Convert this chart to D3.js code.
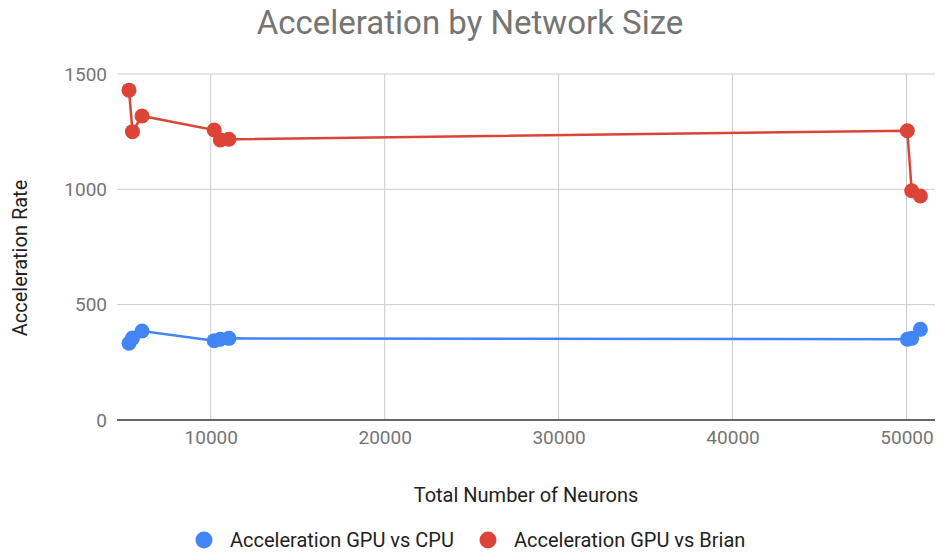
<!DOCTYPE html>
<html>
<head>
<meta charset="utf-8">
<script src="https://cdn.jsdelivr.net/npm/d3@7"></script>
<style>
  body { margin: 0; background: #fff; }
  svg text { font-family: Roboto, "Noto Sans", sans-serif; }
</style>
</head>
<body>
<svg id="chart" width="938" height="553"></svg>
<script>
// network sizes (x) and acceleration rates per series
var neurons = [5300, 5500, 6050, 10200, 10550, 11050, 50050, 50300, 50800];
var gpuVsCpu = [333, 355, 386, 344, 350, 354, 350, 354, 393];
var gpuVsBrian = [1430, 1250, 1318, 1257, 1214, 1217, 1254, 994, 971];

var xTicks = [10000, 20000, 30000, 40000, 50000];
var yTicks = [0, 500, 1000, 1500];

var seriesNames = ["Acceleration GPU vs CPU", "Acceleration GPU vs Brian"];
var seriesColors = ["#4285f4", "#db4437"];

var svg = d3.select("#chart");

var x = d3.scaleLinear()
    .domain([4610, 51640])
    .range([117, 935]);

var y = d3.scaleLinear()
    .domain([0, 1500])
    .range([420, 74]);

// title
svg.append("text")
    .attr("x", 470)
    .attr("y", 34)
    .attr("text-anchor", "middle")
    .attr("font-size", 33)
    .attr("fill", "#757575")
    .text("Acceleration by Network Size");

// horizontal grid
svg.append("g")
    .selectAll("line")
    .data(yTicks.filter(function(d) { return d > 0; }))
    .enter().append("line")
    .attr("x1", 117)
    .attr("x2", 935)
    .attr("y1", function(d) { return y(d); })
    .attr("y2", function(d) { return y(d); })
    .attr("stroke", "#cccccc");

// vertical grid
svg.append("g")
    .selectAll("line")
    .data(xTicks)
    .enter().append("line")
    .attr("x1", function(d) { return x(d); })
    .attr("x2", function(d) { return x(d); })
    .attr("y1", 74)
    .attr("y2", 420)
    .attr("stroke", "#cccccc");

// baseline
svg.append("line")
    .attr("x1", 117)
    .attr("x2", 935)
    .attr("y1", y(0))
    .attr("y2", y(0))
    .attr("stroke", "#333333")
    .attr("stroke-width", 1.5);

// axes labels via d3 axes, with their lines hidden
var yAxis = svg.append("g")
    .attr("transform", "translate(117,0)")
    .call(d3.axisLeft(y).tickValues(yTicks).tickSize(0).tickPadding(10).tickFormat(d3.format("d")));
yAxis.select(".domain").remove();
yAxis.selectAll("text")
    .attr("font-family", "Roboto, sans-serif")
    .attr("font-size", 19)
    .attr("fill", "#757575");

var xAxis = svg.append("g")
    .attr("transform", "translate(0,420)")
    .call(d3.axisBottom(x).tickValues(xTicks).tickSize(0).tickPadding(11).tickFormat(d3.format("d")));
xAxis.select(".domain").remove();
xAxis.selectAll("text")
    .attr("font-family", "Roboto, sans-serif")
    .attr("font-size", 19)
    .attr("fill", "#757575");

// axis titles
svg.append("text")
    .attr("transform", "translate(27,258) rotate(-90)")
    .attr("text-anchor", "middle")
    .attr("font-size", 20)
    .attr("fill", "#222222")
    .text("Acceleration Rate");

svg.append("text")
    .attr("x", 526)
    .attr("y", 502)
    .attr("text-anchor", "middle")
    .attr("font-size", 20)
    .attr("fill", "#222222")
    .text("Total Number of Neurons");

// series
var series = [gpuVsCpu, gpuVsBrian];
var line = d3.line()
    .x(function(d, i) { return x(neurons[i]); })
    .y(function(d) { return y(d); });

series.forEach(function(vals, s) {
    var g = svg.append("g");
    g.append("path")
        .attr("d", line(vals))
        .attr("fill", "none")
        .attr("stroke", seriesColors[s])
        .attr("stroke-width", 2.5);
    g.selectAll("circle")
        .data(vals)
        .enter().append("circle")
        .attr("cx", function(d, i) { return x(neurons[i]); })
        .attr("cy", function(d) { return y(d); })
        .attr("r", 7.5)
        .attr("fill", seriesColors[s]);
});

// legend
var legendX = [204, 488];
var legend = svg.append("g");
seriesNames.forEach(function(name, i) {
    legend.append("circle")
        .attr("cx", legendX[i])
        .attr("cy", 540)
        .attr("r", 8.5)
        .attr("fill", seriesColors[i]);
    legend.append("text")
        .attr("x", legendX[i] + 26)
        .attr("y", 547)
        .attr("font-size", 20)
        .attr("fill", "#222222")
        .text(name);
});
</script>
</body>
</html>
